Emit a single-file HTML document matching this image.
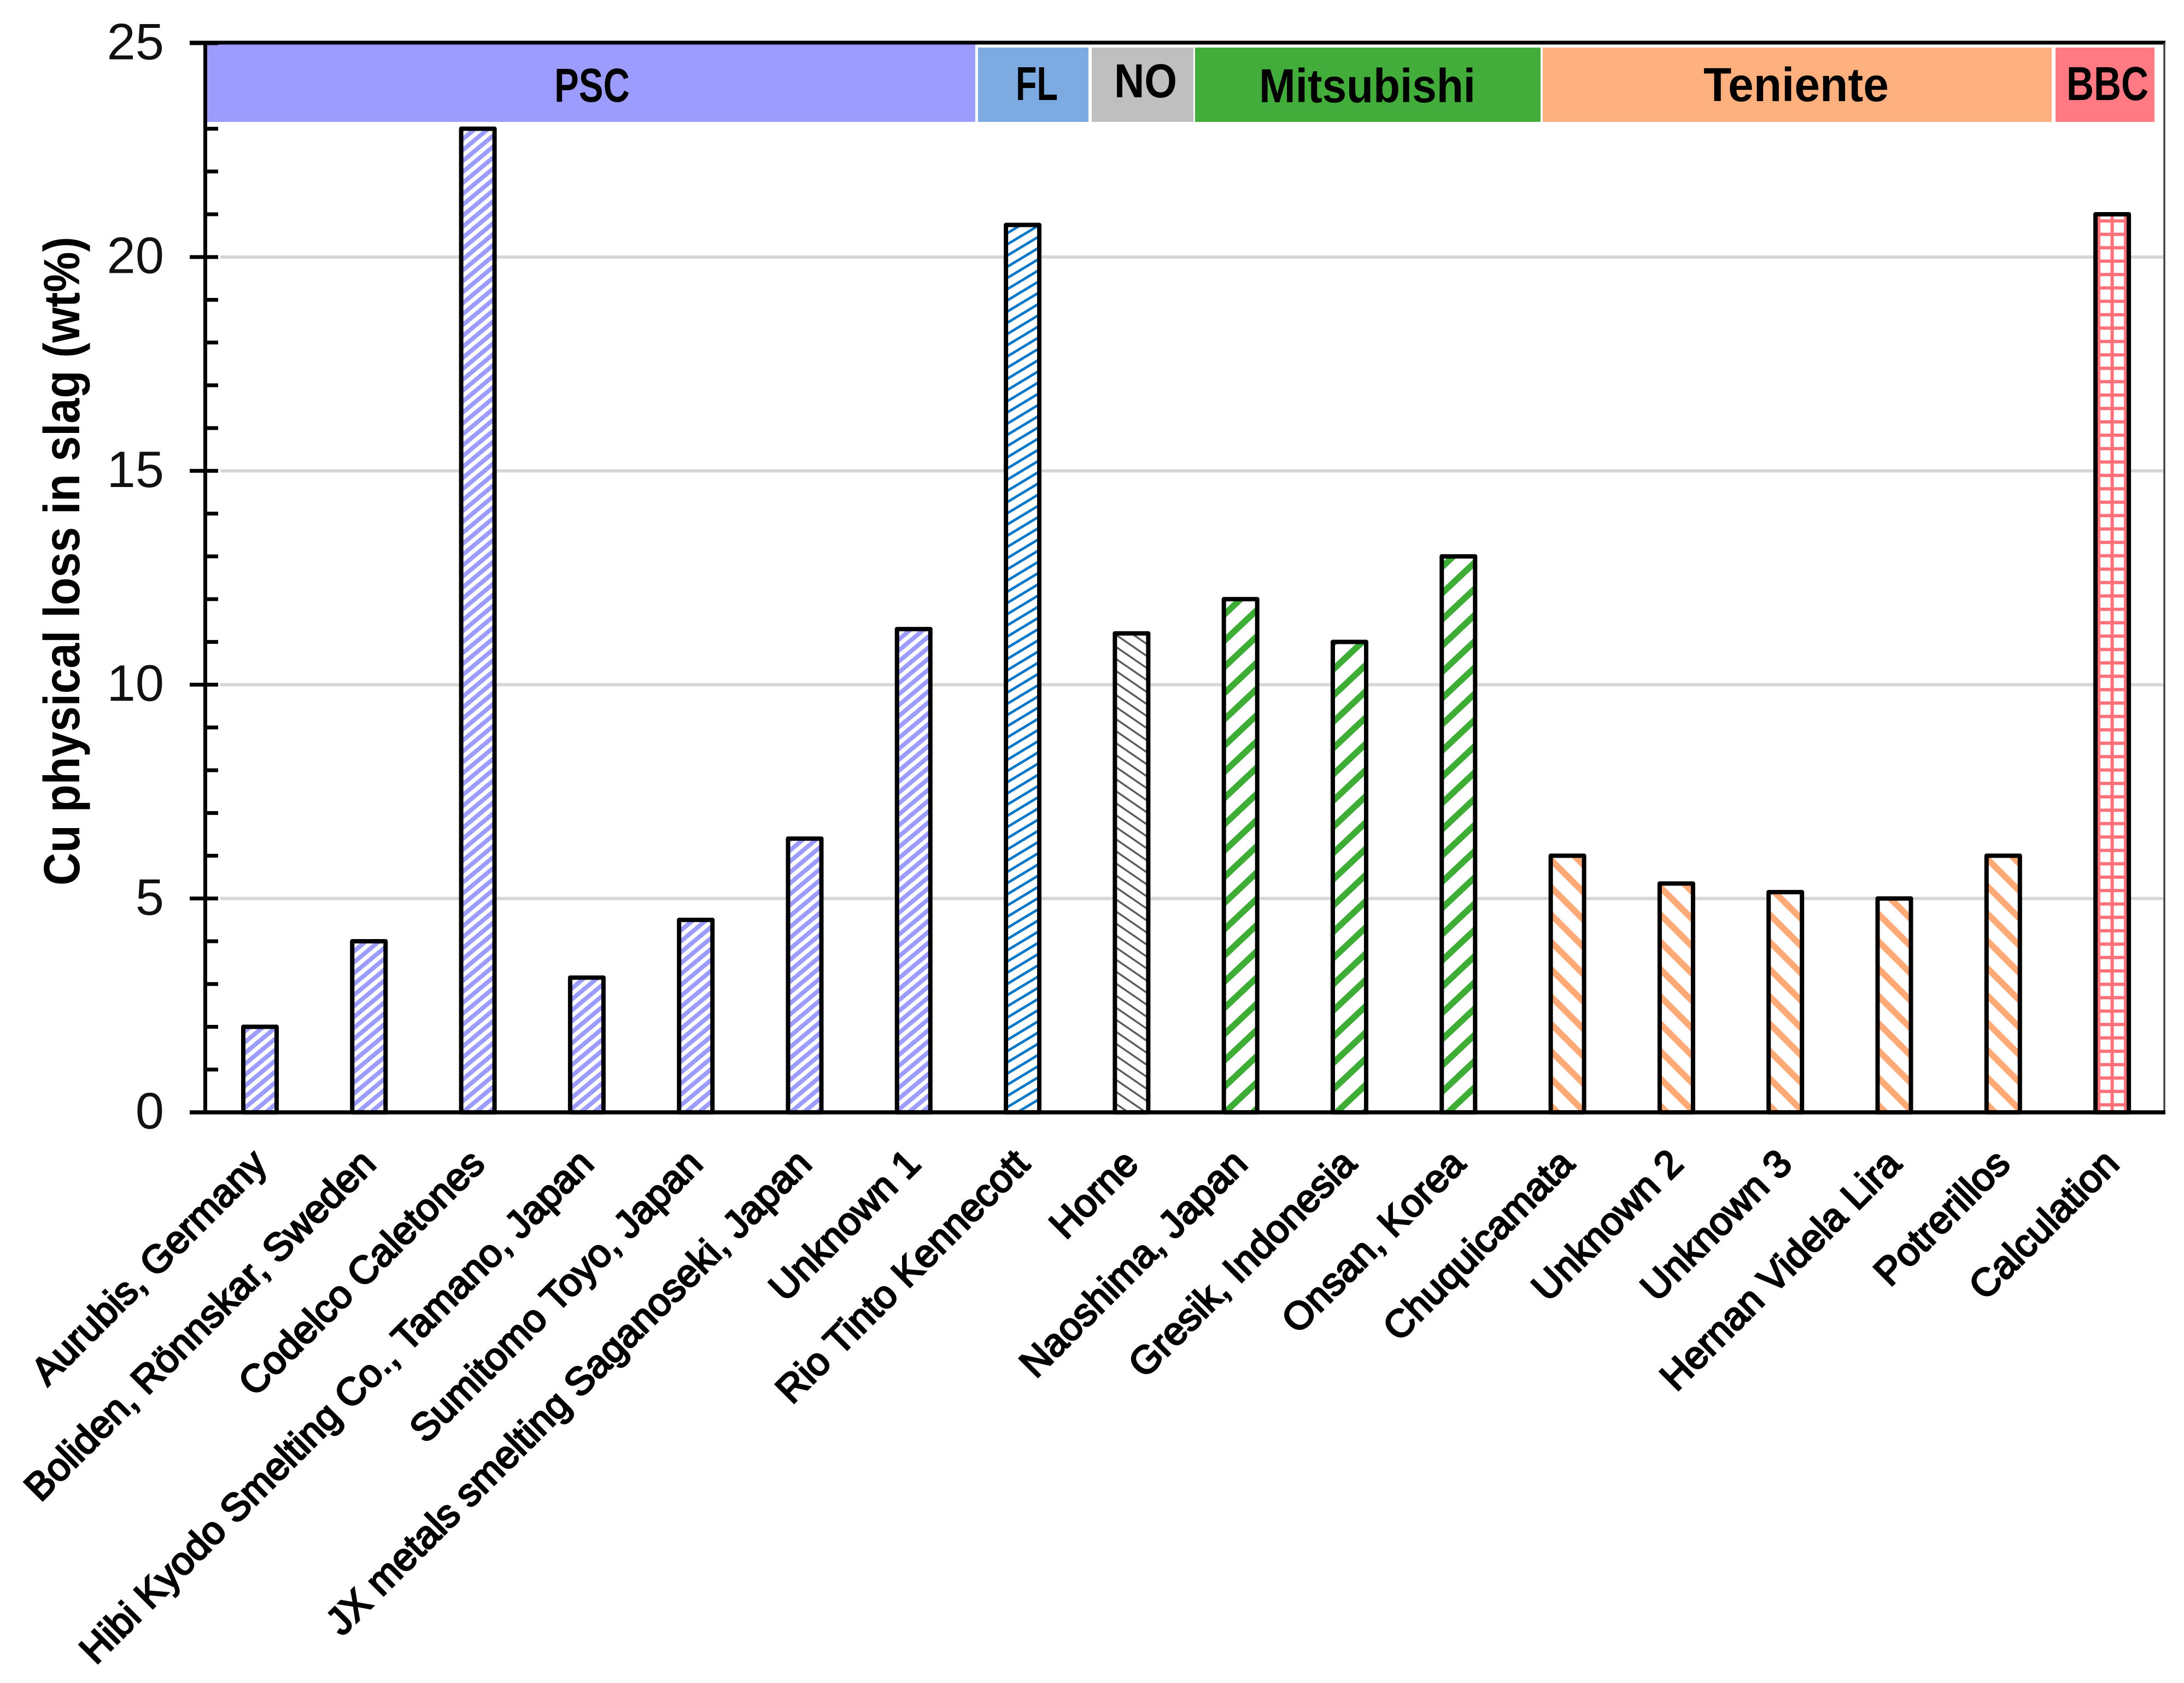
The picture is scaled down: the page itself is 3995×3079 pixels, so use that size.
<!DOCTYPE html>
<html lang="en">
<head>
<meta charset="utf-8">
<title>Cu physical loss in slag</title>
<style>
html,body{margin:0;padding:0;background:#fff}
svg{display:block}
text{font-family:"Liberation Sans",Arial,sans-serif}
</style>
</head>
<body>
<svg id="chart" xmlns="http://www.w3.org/2000/svg" width="3995" height="3079" viewBox="0 0 3995 3079">
  <defs>
    <pattern id="hatch-psc" patternUnits="userSpaceOnUse" width="24" height="20">
      <rect width="24" height="20" fill="#fff"/>
      <path d="M-6 5L6 -5M-6 25L30 -5M18 25L30 15" stroke="#9c9cff" stroke-width="8"/>
    </pattern>
    <pattern id="hatch-fl" patternUnits="userSpaceOnUse" width="34" height="20.5">
      <rect width="34" height="20.5" fill="#fff"/>
      <path d="M-8.5 5.125L8.5 -5.125M-8.5 25.625L42.5 -5.125M25.5 25.625L42.5 15.375" stroke="#0a78c8" stroke-width="4.8"/>
    </pattern>
    <pattern id="hatch-no" patternUnits="userSpaceOnUse" width="32" height="22">
      <rect width="32" height="22" fill="#fff"/>
      <path d="M-8 -5.5L40 27.5M-8 16.5L8 27.5M24 -5.5L40 5.5" stroke="#5c5c5c" stroke-width="3.4"/>
    </pattern>
    <pattern id="hatch-mit" patternUnits="userSpaceOnUse" x="0" y="16" width="51" height="48">
      <rect width="51" height="48" fill="#fff"/>
      <path d="M-12.75 12L12.75 -12M-12.75 60L63.75 -12M38.25 60L63.75 36" stroke="#3dad35" stroke-width="11.5"/>
    </pattern>
    <pattern id="hatch-ten" patternUnits="userSpaceOnUse" x="0" y="36" width="50" height="50">
      <rect width="50" height="50" fill="#fff"/>
      <path d="M-12.5 -12.5L62.5 62.5M-12.5 37.5L12.5 62.5M37.5 -12.5L62.5 12.5" stroke="#ffaa76" stroke-width="11.5"/>
    </pattern>
    <pattern id="hatch-bbc" patternUnits="userSpaceOnUse" width="24.5" height="24.5">
      <rect width="24.5" height="24.5" fill="#fff"/>
      <path d="M12.25 0V24.5M0 12.25H24.5" stroke="#ff7078" stroke-width="6"/>
    </pattern>
  </defs>

  <g id="grid"></g>

  <g>
    <rect x="378" y="80" width="1406" height="143" fill="#9c9cff"/>
    <rect x="1789" y="87" width="202" height="136" fill="#7daae0"/>
    <rect x="1997" y="87" width="186" height="136" fill="#bfbfbf"/>
    <rect x="2186" y="87" width="632" height="136" fill="#43ad3c"/>
    <rect x="2822" y="87" width="931" height="136" fill="#ffb07f"/>
    <rect x="3760" y="87" width="181" height="136" fill="#ff7a82"/>
    <g font-size="87" font-weight="700" fill="#000">
      <text x="1014" y="186" textLength="138" lengthAdjust="spacingAndGlyphs">PSC</text>
      <text x="1858" y="183" textLength="77" lengthAdjust="spacingAndGlyphs">FL</text>
      <text x="2038" y="178" textLength="115" lengthAdjust="spacingAndGlyphs">NO</text>
      <text x="2303" y="187" textLength="396" lengthAdjust="spacingAndGlyphs">Mitsubishi</text>
      <text x="3116" y="185" textLength="339" lengthAdjust="spacingAndGlyphs">Teniente</text>
      <text x="3780" y="183" textLength="150" lengthAdjust="spacingAndGlyphs">BBC</text>
    </g>
  </g>

  <g id="bars"></g>

  <g>
    <line x1="347" y1="78" x2="3961" y2="78" stroke="#000" stroke-width="7"/>
    <line x1="3959" y1="78" x2="3959" y2="2035" stroke="#444" stroke-width="3.5"/>
    <line x1="375.5" y1="78" x2="375.5" y2="2035" stroke="#000" stroke-width="7"/>
  </g>

  <g id="yticks"></g>
  <line x1="347" y1="2035" x2="3961" y2="2035" stroke="#000" stroke-width="7.5"/>
  <g id="xlabels"></g>

  <text transform="translate(145 1620) rotate(-90)" font-size="93" font-weight="700" fill="#000" textLength="1187" lengthAdjust="spacingAndGlyphs">Cu physical loss in slag (wt%)</text>
</svg>

<script>
const categories = ["Aurubis, Germany","Boliden, Rönnskar, Sweden","Codelco Caletones","Hibi Kyodo Smelting Co., Tamano, Japan","Sumitomo Toyo, Japan","JX metals smelting Saganoseki, Japan","Unknown 1","Rio Tinto Kennecott","Horne","Naoshima, Japan","Gresik, Indonesia","Onsan, Korea","Chuquicamata","Unknown 2","Unknown 3","Hernan Videla Lira","Potrerillos","Calculation"];
const values = [2,4,23,3.15,4.5,6.4,11.3,20.75,11.2,12,11,13,6,5.35,5.15,5,6,21];
const groups = ["psc","psc","psc","psc","psc","psc","psc","fl","no","mit","mit","mit","ten","ten","ten","ten","ten","bbc"];
const yMajorTicks = [0,5,10,15,20,25];
const yMinorTicks = [1,2,3,4,6,7,8,9,11,12,13,14,16,17,18,19,21,22,23];
const gridTicks = [5,10,15,20];

const NS = "http://www.w3.org/2000/svg";
function yScale(v){ return 2035 - v * 78.24; }
function xScale(i){ return 475.5 + i * 199.3; }
function make(tag, attrs, parent){
  const el = document.createElementNS(NS, tag);
  for (const k in attrs) el.setAttribute(k, attrs[k]);
  parent.appendChild(el);
  return el;
}

const gridG = document.getElementById("grid");
gridTicks.forEach(function(t){
  const l = make("line", {x1:403, x2:3957, y1:yScale(t), y2:yScale(t), stroke:"#d6d6d6", "stroke-width":6}, gridG);
  
  
});

document.getElementById("hatch-bbc").setAttribute("x", xScale(categories.length - 1) - 12.25);

const barsG = document.getElementById("bars");
values.forEach(function(v, i){
  const top = yScale(v);
  const r = make("rect", {x:xScale(i) - 30.5, y:top, width:61, height:yScale(0) - top, fill:"url(#hatch-" + groups[i] + ")", stroke:"#000", "stroke-width":8, "stroke-linejoin":"round"}, barsG);
  
  
});

const yG = document.getElementById("yticks");
yMajorTicks.forEach(function(t){
  const l = make("line", {x1:347, x2:399, y1:yScale(t), y2:yScale(t), stroke:"#000", "stroke-width":7}, yG);
  
  
  const tx = make("text", {x:300, y:yScale(t) + 29.5, "text-anchor":"end", "font-size":94, fill:"#111"}, yG);
  tx.textContent = String(t);
  
  
});
yMinorTicks.forEach(function(t){
  const l = make("line", {x1:376, x2:399, y1:yScale(t), y2:yScale(t), stroke:"#000", "stroke-width":7}, yG);
  
  
});

const xG = document.getElementById("xlabels");
categories.forEach(function(c, i){
  const px = xScale(i) + 16;
  const tx = make("text", {transform:"translate(" + px + " 2133) rotate(-45)", "text-anchor":"end", "font-size":71, fill:"#000", stroke:"#000", "stroke-width":3}, xG);
  tx.textContent = c;
  
  
});
</script>
</body>
</html>
